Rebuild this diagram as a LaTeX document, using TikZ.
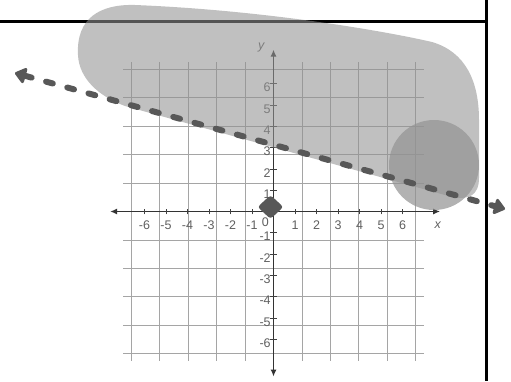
\documentclass[tikz,border=0pt]{standalone}
\usepackage{fontspec}
\setmainfont{Liberation Sans}
\usetikzlibrary{arrows.meta, shapes.geometric, positioning}
\definecolor{inkgray}{RGB}{88,88,88}
\definecolor{gridgray}{RGB}{165,165,165}
\definecolor{labelgray}{RGB}{95,95,95}
\definecolor{shadegray}{RGB}{146,146,146}

\begin{document}
\begin{tikzpicture}[x=1pt, y=-1pt,
    ticklabel/.style={text=labelgray, font=\fontsize{12.5}{12.5}\selectfont, inner sep=0.5pt},
    axisline/.style={draw=black!80, line width=1.3pt, {Latex[length=7pt,width=6pt]}-{Latex[length=7pt,width=6pt]}},
    guessline/.style={draw=inkgray, line width=6pt, line cap=round, dash pattern=on 7pt off 15pt,
      {Triangle[length=12pt,width=18pt,round]}-{Triangle[length=12pt,width=18pt,round]}},
    shade/.style={fill=shadegray, fill opacity=0.58}]
\useasboundingbox (0,0) rectangle (511,381);

% coordinate plane
\begin{scope}[shift={(273.5,211.5)}, x=21.5pt, y=21.3pt]
  \draw[gridgray, line width=0.9pt] (-7,-7) grid (7,7);
  \coordinate (xmin) at (-7.6,0);
  \coordinate (xmax) at (7.75,0);
  \coordinate (ymin) at (0,-7.75);
  \coordinate (ymax) at (0,7.6);
  \draw[axisline] (xmin) -- (xmax);
  \draw[axisline] (ymin) -- (ymax);
  \foreach \i in {-6,...,6} {
    \draw[black!75, line width=0.7pt] (\i,-0.14) -- (\i,0.14);
    \draw[black!75, line width=0.7pt] (-0.14,\i) -- (0.14,\i);
  }
  \foreach \i in {-6,...,-1,1,2,...,6} {
    \node[ticklabel] (xt\i) at (\i,-0.63) {\i};
    \node[ticklabel, anchor=east] (yt\i) at (-0.1,\i-0.18) {\i};
  }
  \node[ticklabel] (origin) at (-0.38,-0.5) {0};
  \node[ticklabel] (xname) at (7.65,-0.63) {\textit{x}};
  \node[ticklabel] (yname) at (-0.55,7.72) {\textit{y}};
\end{scope}

% frame
\coordinate (ruleL) at (0,21);
\coordinate (ruleR) at (486,21);
\coordinate (sideT) at (486,0);
\coordinate (sideB) at (486,381);
\draw[line width=3pt] (ruleL) -- (ruleR);
\draw[line width=3pt] (sideT) -- (sideB);

% shaded region
\fill[shade] (78,55) .. controls (76,18) and (100,4) .. (135,5)
  .. controls (260,10) and (380,30) .. (432,42)
  .. controls (466,52) and (479,82) .. (479,120)
  -- (479,178)
  .. controls (479,196) and (468,200) .. (452,197)
  -- (125,106)
  .. controls (98,96) and (79,78) .. (78,55) -- cycle;
\fill[shadegray, fill opacity=0.7] (434,165) circle[radius=45pt];

% line and point
\coordinate (left) at (15,73);
\coordinate (right) at (505,209);
\draw[guessline] (left) -- (right);
\node[diamond, fill=inkgray, minimum width=26pt, minimum height=24pt, inner sep=0pt, rounded corners=3pt] (point) at (270.5,207) {};
\end{tikzpicture}
\end{document}
